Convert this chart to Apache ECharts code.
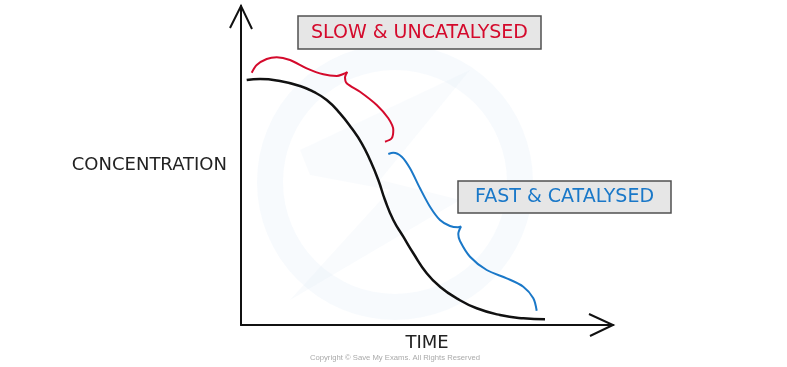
<!DOCTYPE html>
<html><head><meta charset="utf-8">
<script src="https://cdn.jsdelivr.net/npm/echarts@6/dist/echarts.min.js"></script>
<style>html,body{margin:0;padding:0;background:#fff}#c{width:787px;height:367px}</style>
</head><body><div id="c"></div>
<script>
// Data (axis units: time 0-100, concentration 0-100)
const reactionCurve = [[1.53,76.8],[5.11,77.12],[10.48,76.49],[15.86,74.92],[19.44,73.13],[23.04,70.53],[26.61,66.36],[29.76,61.66],[32.45,56.96],[34.68,51.72],[36.91,45.45],[38.71,39.18],[40.94,32.92],[43.63,27.68],[46.32,22.48],[49.92,16.21],[53.49,12.01],[57.98,8.37],[63.36,5.24],[69.62,3.13],[75.89,2.1],[81.72,1.79]];
const slowBrace = [[2.88,79.09],[4.22,81.5],[6.91,83.39],[9.6,83.92],[13.17,83.07],[17.66,80.47],[22.12,78.59],[25.73,78.06],[27.5,78.68],[28.58,79.31],[27.96,77.65],[28.41,75.77],[31.99,73.13],[36.48,68.97],[39.6,64.8],[40.94,61.13],[40.51,58.53],[38.71,57.46]];
const fastBrace = [[39.6,53.61],[40.94,54.01],[43.2,52.76],[45.43,49.12],[48.12,42.85],[50.81,37.08],[53.49,32.92],[56.18,31.03],[58.33,30.63],[59.14,30.88],[58.41,28.53],[58.87,26.33],[61.56,21.41],[66.05,17.24],[71.42,14.64],[75.89,12.01],[78.58,8.37],[79.49,4.48]];
const xAxisName = 'TIME';
const yAxisName = 'CONCENTRATION';
const slowLabel = 'SLOW & UNCATALYSED';
const fastLabel = 'FAST & CATALYSED';
const copyright = 'Copyright © Save My Exams. All Rights Reserved';

const chart = echarts.init(document.getElementById('c'));
const font = "'DejaVu Sans', sans-serif";
chart.setOption({
  animation:false,
  backgroundColor:'#fff',
  grid:{left:241, right:174, top:6, bottom:42},
  xAxis:{type:'value', min:0, max:100, axisLine:{show:true, onZero:false, lineStyle:{color:'#111', width:2}},
    axisTick:{show:false}, axisLabel:{show:false}, splitLine:{show:false},
    name:xAxisName, nameLocation:'middle', nameGap:9, nameTextStyle:{color:'#222', fontFamily:font, fontSize:18, verticalAlign:'top'}},
  yAxis:{type:'value', min:0, max:100, axisLine:{show:true, onZero:false, lineStyle:{color:'#111', width:2}},
    axisTick:{show:false}, axisLabel:{show:false}, splitLine:{show:false},
    name:yAxisName, nameLocation:'middle', nameGap:14, nameRotate:0,
    nameTextStyle:{color:'#222', fontFamily:font, fontSize:18, align:'right', padding:[3,0,0,0]}},
  series:[
    {type:'line', data:reactionCurve, smooth:0.5, symbol:'none', lineStyle:{color:'#111', width:2.5}, z:3},
    {type:'line', data:slowBrace, smooth:0.3, symbol:'none', lineStyle:{color:'#d40a2c', width:2}},
    {type:'line', data:fastBrace, smooth:0.3, symbol:'none', lineStyle:{color:'#1a78c8', width:2}}
  ]
});

const yt = chart.convertToPixel({xAxisIndex:0, yAxisIndex:0}, [0,100]);
const xt = chart.convertToPixel({xAxisIndex:0, yAxisIndex:0}, [100,0]);
chart.setOption({graphic:[
  {type:'ring', shape:{cx:395, cy:182, r:138, r0:112}, style:{fill:'rgba(228,238,248,0.28)'}, z:-10, silent:true},
  {type:'polygon', shape:{points:[[300,150],[470,70],[380,180],[460,200],[290,300],[390,190],[310,175]]}, style:{fill:'rgba(228,238,248,0.22)'}, z:-10, silent:true},
  {type:'polyline', shape:{points:[[yt[0]-11,yt[1]+22],[yt[0],yt[1]],[yt[0]+11,yt[1]+23]]}, style:{stroke:'#111', lineWidth:2, fill:null}},
  {type:'polyline', shape:{points:[[xt[0]-24,xt[1]-11],[xt[0],xt[1]],[xt[0]-23,xt[1]+11]]}, style:{stroke:'#111', lineWidth:2, fill:null}},
  {type:'rect', shape:{x:298, y:16, width:243, height:33}, style:{fill:'#e6e6e6', stroke:'#505050', lineWidth:1.5}},
  {type:'text', x:419.5, y:33, style:{text:slowLabel, fill:'#d40a2c', font:"19px "+font, align:'center', verticalAlign:'middle'}},
  {type:'rect', shape:{x:458, y:181, width:213, height:32}, style:{fill:'#e6e6e6', stroke:'#505050', lineWidth:1.5}},
  {type:'text', x:564.5, y:197.5, style:{text:fastLabel, fill:'#1a78c8', font:"19px "+font, align:'center', verticalAlign:'middle'}},
  {type:'text', x:395, y:358, style:{text:copyright, fill:'#aaa', font:"7.7px 'Liberation Sans', sans-serif", align:'center', verticalAlign:'middle'}}
]});
</script></body></html>
